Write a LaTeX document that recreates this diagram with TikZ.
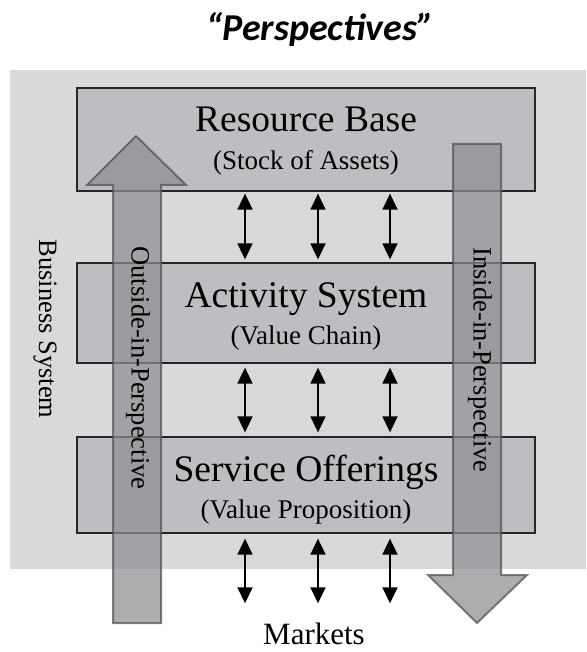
\documentclass[tikz,border=0pt]{standalone}
\usepackage{fontspec}
\setmainfont{Liberation Serif}
\newfontfamily\titlefont{Carlito}
\usepackage{xcolor}
\usetikzlibrary{arrows.meta}
\definecolor{sysgray}{HTML}{D8D9DB}
\definecolor{boxgray}{HTML}{BDBEC1}
\definecolor{perspfill}{HTML}{8D8E92}
\definecolor{perspedge}{HTML}{505155}
\tikzset{
  layer/.style={draw=black!85,line width=1.3pt,fill=boxgray,minimum width=458pt,inner sep=0pt},
  persp/.style={fill=perspfill,draw=perspedge,line width=2pt,opacity=0.72,line join=miter},
  link/.style={{Triangle[width=15pt,length=16pt]}-{Triangle[width=15pt,length=16pt]},line width=1.8pt,shorten <=2pt,shorten >=3pt},
  big/.style={font=\fontsize{37.5}{40}\selectfont,anchor=base},
  small/.style={font=\fontsize{27}{30}\selectfont,anchor=base},
  side/.style={font=\fontsize{26.5}{28}\selectfont,rotate=-90}
}
\begin{document}
\begin{tikzpicture}[x=1pt,y=-1pt]
\useasboundingbox (0,0) rectangle (586,652);
\node[font=\titlefont\bfseries\itshape\fontsize{38}{42}\selectfont] (title) at (320,29) {“Perspectives”};
\fill[sysgray] (10,70) rectangle (586,569);
\node[layer,minimum height=103pt] (rb) at (306,139.5) {};
\node[layer,minimum height=100pt] (as) at (306,313) {};
\node[layer,minimum height=96pt] (so) at (306,485) {};
\node[big] (rbt) at (306,132) {Resource Base};
\node[small] (rbs) at (306,170) {(Stock of Assets)};
\node[big] (ast) at (306,307) {Activity System};
\node[small] (ass) at (306,344) {(Value Chain)};
\node[big] (sot) at (306,481) {Service Offerings};
\node[small] (sos) at (306,518.5) {(Value Proposition)};
\node[font=\fontsize{31}{34}\selectfont,anchor=base,inner sep=0pt] (mk) at (314,644) {Markets};
\foreach \c in {245,318,390}{
  \coordinate (k) at (\c,0);
  \draw[link] (rb.south -| k) -- (as.north -| k);
  \draw[link,shorten <=4pt,shorten >=4pt] (as.south -| k) -- (so.north -| k);
  \draw[link,shorten <=5pt,shorten >=19pt] (so.south -| k) -- (mk.north -| k);
}
\draw[persp] (113,623) -- (113,185) -- (87,185) -- (136,136) -- (186,185) -- (161,185) -- (161,623) -- cycle;
\draw[persp] (453,144) -- (453,575) -- (428,575) -- (477,623) -- (527,575) -- (501,575) -- (501,144) -- cycle;
\node[side] (bs) at (45,329) {Business System};
\node[side] (oip) at (138,368) {Outside-in-Perspective};
\node[side] (iip) at (480,360) {Inside-in-Perspective};
\end{tikzpicture}
\end{document}
